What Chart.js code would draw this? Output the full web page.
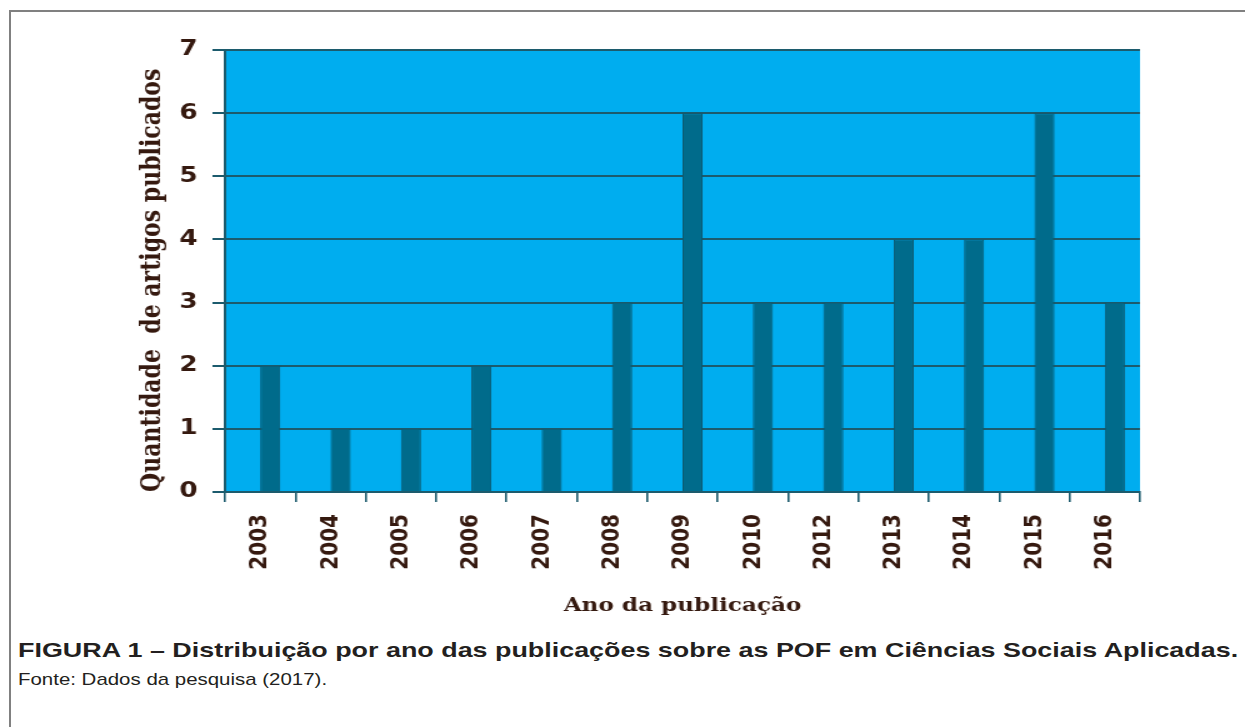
<!DOCTYPE html>
<html>
<head>
<meta charset="utf-8">
<script src="https://cdn.jsdelivr.net/npm/chart.js@4.4.0/dist/chart.umd.min.js"></script>
<style>
  body { margin: 0; background: #fff; width: 1245px; height: 727px; overflow: hidden; position: relative; font-family: "Liberation Sans", Arial, sans-serif; }
  #frame { position: absolute; left: 9px; top: 10px; width: 1300px; height: 800px; border: 2px solid #808080; }
  #wrap { position: absolute; left: 0; top: 0; width: 996px; height: 620px; transform: scaleX(1.25); transform-origin: 0 0; }
  .cap { position: absolute; left: 18px; white-space: nowrap; color: #231f20; transform-origin: 0 0; }
  #titulo { top: 638px; font-size: 21px; font-weight: bold; }
  #fonte { top: 670px; font-size: 17px; }
</style>
</head>
<body>
<div id="frame"></div>
<div id="wrap"><canvas id="grafico" width="996" height="620"></canvas></div>
<div class="cap" id="titulo">FIGURA 1 – Distribuição por ano das publicações sobre as POF em Ciências Sociais Aplicadas.</div>
<div class="cap" id="fonte">Fonte: Dados da pesquisa (2017).</div>
<script>
// dados
const anos = ["2003", "2004", "2005", "2006", "2007", "2008", "2009", "2010", "2012", "2013", "2014", "2015", "2016"];
const artigos = [2, 1, 1, 2, 1, 3, 6, 3, 3, 4, 4, 6, 3];
const vazio = anos.map(() => null); // série vazia (segunda coluna do Excel)
const yMin = 0, yMax = 7, yPasso = 1;

const corFundo = "#00adef";
const corBarra = "#006b8b";
const corGrade = "#1c5b6d";
const corTexto = "#35190f";

// pinta o fundo azul da área do gráfico
const fundo = {
  id: "fundo",
  beforeDraw(chart) {
    const { ctx, chartArea: a } = chart;
    ctx.save();
    ctx.fillStyle = corFundo;
    ctx.fillRect(a.left, a.top, a.right - a.left, a.bottom - a.top);
    ctx.restore();
  }
};

new Chart(document.getElementById("grafico").getContext("2d"), {
  type: "bar",
  data: {
    labels: anos,
    datasets: [
      { data: vazio, backgroundColor: "rgba(0,0,0,0)" },
      { data: artigos, backgroundColor: corBarra, borderColor: "#0d5a70", borderWidth: 1 }
    ]
  },
  options: {
    responsive: false,
    animation: false,
    devicePixelRatio: 1,
    categoryPercentage: 0.57,
    barPercentage: 1,
    layout: { padding: { left: 104, right: 84, top: 50, bottom: 0 } },
    plugins: { legend: { display: false }, tooltip: { enabled: false } },
    scales: {
      x: {
        afterFit: s => { s.height = 128; },
        grid: { offset: true, drawOnChartArea: false, drawTicks: true, tickLength: 10, color: corGrade, lineWidth: 1.6 },
        border: { display: true, color: corGrade, width: 2 },
        ticks: {
          autoSkip: false, minRotation: 90, maxRotation: 90, padding: 12,
          color: corTexto, font: { family: "DejaVu Sans", weight: "bold", size: 20 }
        },
        title: {
          display: true, text: "Ano da publicação", color: corTexto,
          font: { family: "DejaVu Serif", weight: "bold", size: 18.5 }, padding: { top: 0, bottom: 3 }
        }
      },
      y: {
        min: yMin, max: yMax,
        afterFit: s => { s.width = 76; },
        grid: { color: corGrade, lineWidth: 2, tickLength: 10 },
        border: { display: true, color: corGrade, width: 2 },
        ticks: {
          stepSize: yPasso, padding: 12, color: corTexto,
          font: { family: "DejaVu Sans", weight: "bold", size: 21 }
        },
        title: {
          display: true, text: "Quantidade  de artigos publicados", color: corTexto, align: "start",
          font: { family: "DejaVu Serif", weight: "bold", size: 22 }, padding: { top: 5, bottom: 0 }
        }
      }
    }
  },
  plugins: [fundo]
});

// a legenda da figura está esticada na horizontal, como no original
function ajusta(id, larguraAlvo) {
  const el = document.getElementById(id);
  el.style.transform = "scaleX(" + (larguraAlvo / el.offsetWidth) + ")";
}
ajusta("titulo", 1220);
ajusta("fonte", 309);
</script>
</body>
</html>
